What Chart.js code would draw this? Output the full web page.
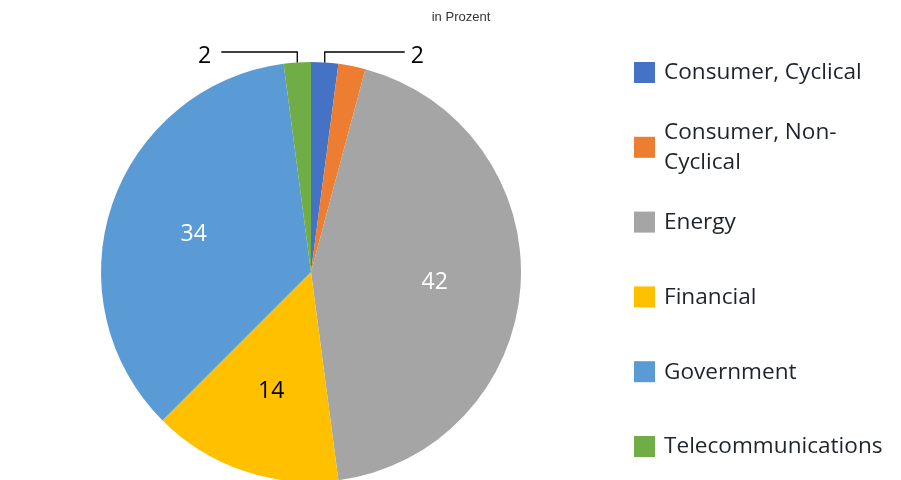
<!DOCTYPE html>
<html>
<head>
<meta charset="utf-8">
<script src="https://cdn.jsdelivr.net/npm/chart.js@4"></script>
<style>
  html, body { margin: 0; padding: 0; background: #fff; overflow: hidden; }
  #wrap { width: 901px; height: 480px; position: relative; }
</style>
</head>
<body>
<div id="wrap"><canvas id="myChart" width="901" height="480"></canvas></div>
<script>
// sectors, in percent
const categories = ['Consumer, Cyclical', 'Consumer, Non-Cyclical', 'Energy', 'Financial', 'Government', 'Telecommunications'];
const legendLines = [['Consumer, Cyclical'], ['Consumer, Non-', 'Cyclical'], ['Energy'], ['Financial'], ['Government'], ['Telecommunications']];
const shares = [2, 2, 42, 14, 34, 2];
const colors = ['#4472C4', '#ED7D31', '#A5A5A5', '#FFC000', '#5B9BD5', '#70AD47'];
const labelColors = ['#000', '#000', '#fff', '#000', '#fff', '#000'];
const showLabel = [true, false, true, true, true, true];

// labels inside big slices, leader lines for the small ones
const labelPlugin = {
  id: 'sliceLabels',
  afterDatasetsDraw(chart) {
    const ctx = chart.ctx;
    const meta = chart.getDatasetMeta(0);
    ctx.save();
    ctx.font = '23px "Open Sans", sans-serif';
    ctx.textBaseline = 'middle';
    meta.data.forEach((arc, i) => {
      if (!showLabel[i]) return;
      const mid = (arc.startAngle + arc.endAngle) / 2;
      const frac = shares[i] / shares.reduce((a, b) => a + b, 0);
      if (frac > 0.05) {
        const r = arc.outerRadius * 0.59;
        ctx.fillStyle = labelColors[i];
        ctx.textAlign = 'center';
        ctx.fillText(String(shares[i]), arc.x + Math.cos(mid) * r, arc.y + Math.sin(mid) * r + 2);
      } else {
        // point on the rim, then up and sideways
        const px = arc.x + Math.cos(mid) * arc.outerRadius;
        const py = arc.y + Math.sin(mid) * arc.outerRadius;
        const lineY = 52;
        const left = px < arc.x;
        const endX = left ? px - 76 : px + 80;
        ctx.strokeStyle = '#000';
        ctx.lineWidth = 1.3;
        ctx.beginPath();
        ctx.moveTo(px, py);
        ctx.lineTo(px, lineY);
        ctx.lineTo(endX, lineY);
        ctx.stroke();
        ctx.fillStyle = '#000';
        ctx.textAlign = left ? 'right' : 'left';
        ctx.fillText(String(shares[i]), left ? endX - 10 : endX + 6, lineY + 4);
      }
    });
    ctx.restore();
  }
};

// right-hand legend, one row per sector
const legendPlugin = {
  id: 'sideLegend',
  afterDraw(chart) {
    const ctx = chart.ctx;
    ctx.save();
    ctx.font = '22.6px "Open Sans", sans-serif';
    ctx.textBaseline = 'middle';
    ctx.textAlign = 'left';
    const x0 = 634;
    const y0 = 72;
    const step = 74.8;
    legendLines.forEach((lines, i) => {
      const cy = y0 + i * step;
      ctx.fillStyle = colors[i];
      ctx.fillRect(x0, cy - 10, 21, 21);
      ctx.fillStyle = '#1f232b';
      const lh = 30;
      lines.forEach((t, j) => {
        ctx.fillText(t, x0 + 30, cy + 1 + (j - (lines.length - 1) / 2) * lh);
      });
    });
    ctx.font = '13px "Liberation Sans", Arial, sans-serif';
    ctx.fillStyle = '#333';
    ctx.textAlign = 'center';
    ctx.fillText('in Prozent', 461, 17);
    ctx.restore();
  }
};

function initChart(canvas) {
  const data = {
    labels: categories,
    datasets: [{
      data: shares,
      backgroundColor: colors,
      borderWidth: 0
    }]
  };

  const config = {
    type: 'pie',
    data: data,
    options: {
      responsive: false,
      animation: false,
      radius: 210,
      layout: { padding: { left: 100, right: 379, top: 64, bottom: 0 } },
      plugins: {
        legend: { display: false },
        tooltip: { enabled: false }
      }
    },
    plugins: [labelPlugin, legendPlugin]
  };

  return new Chart(canvas, config);
}

initChart(document.querySelector('#myChart'));
</script>
</body>
</html>
